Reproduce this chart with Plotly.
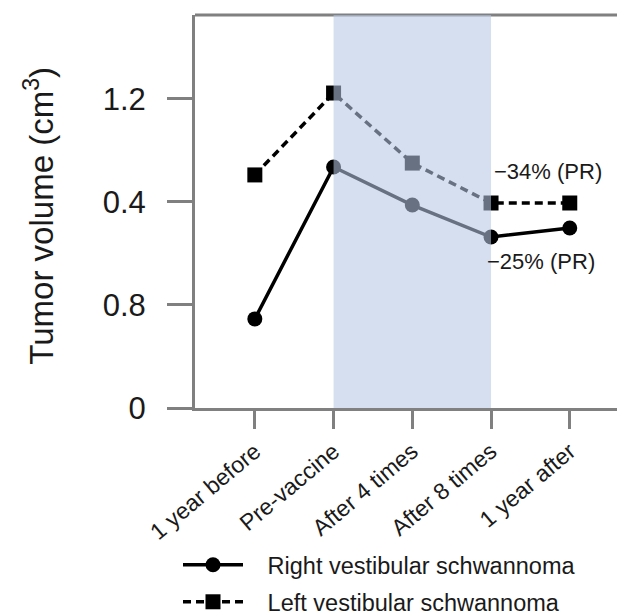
import plotly.graph_objects as go

# ---- data ----
categories = ["1 year before", "Pre-vaccine", "After 4 times", "After 8 times", "1 year after"]
right_vs = [0.346, 0.936, 0.788, 0.664, 0.699]   # Right vestibular schwannoma
left_vs = [0.905, 1.223, 0.951, 0.796, 0.796]    # Left vestibular schwannoma
y_tickvals = [0, 0.4, 0.8, 1.2]
y_ticktext = ["0", "0.8", "0.4", "1.2"]
vaccine_start, vaccine_end = 1, 3                # shaded vaccination period (category index)
notes = [("\u221234% (PR)", 3.01, 0.917), ("\u221225% (PR)", 2.92, 0.567)]

FONT = "Liberation Sans, Arial, sans-serif"
AXC = "#808080"
TXT = "#1a1a1a"
W, H = 617, 612

xs = list(range(len(categories)))
GAP = "\u00a0" * 3

fig = go.Figure()
fig.add_trace(go.Scatter(
    x=xs, y=right_vs, mode="lines+markers", name=GAP + "Right vestibular schwannoma",
    line=dict(color="black", width=3.5),
    marker=dict(symbol="circle", size=15, color="black"),
    legend="legend",
))
fig.add_trace(go.Scatter(
    x=xs, y=left_vs, mode="lines+markers", name=GAP + "Left vestibular schwannoma",
    line=dict(color="black", width=3.5, dash="8px,5px"),
    marker=dict(symbol="square", size=15, color="black"),
    legend="legend2",
))

# top frame line (drawn under the shaded band, like the reference)
fig.add_shape(type="line", xref="paper", yref="paper", x0=0, x1=1, y0=1, y1=1,
              line=dict(color=AXC, width=3), layer="below")
fig.add_shape(type="rect", xref="x", yref="paper",
              x0=vaccine_start, x1=vaccine_end, y0=0, y1=1,
              fillcolor="rgba(183,198,226,0.57)", line=dict(width=0), layer="above")

for text, xv, yv in notes:
    fig.add_annotation(x=xv, y=yv, text=text, showarrow=False, xanchor="left", yanchor="middle",
                       font=dict(family=FONT, size=22, color=TXT))

fig.add_annotation(xref="paper", yref="paper", x=-0.37, y=0.489, textangle=-90,
                   text="Tumor volume (cm<sup>3</sup>)", showarrow=False,
                   xanchor="center", yanchor="middle",
                   font=dict(family=FONT, size=33, color=TXT))

fig.update_xaxes(
    range=[-0.76, 4.6], tickvals=xs, ticktext=categories, tickangle=-40,
    showline=True, linecolor=AXC, linewidth=3,
    ticks="outside", ticklen=18, tickwidth=3, tickcolor=AXC,
    showgrid=False, zeroline=False, automargin=False,
    tickfont=dict(family=FONT, size=23, color=TXT),
)
fig.update_yaxes(
    range=[0, 1.526], tickvals=y_tickvals, ticktext=y_ticktext,
    showline=True, linecolor=AXC, linewidth=3,
    ticks="outside", ticklen=25, tickwidth=3, tickcolor=AXC,
    ticklabelstandoff=15,
    showgrid=False, zeroline=False, automargin=False,
    tickfont=dict(family=FONT, size=31, color=TXT),
)

legend_common = dict(xref="container", yref="container", xanchor="left", yanchor="middle",
                     bgcolor="rgba(0,0,0,0)", borderwidth=0, itemwidth=60,
                     font=dict(family=FONT, size=23.5, color=TXT))
fig.update_layout(
    width=W, height=H,
    margin=dict(l=195, r=0, t=15, b=204, autoexpand=False),
    paper_bgcolor="white", plot_bgcolor="white",
    showlegend=True,
    legend=dict(x=178 / W, y=1 - 565 / H, **legend_common),
    legend2=dict(x=178 / W, y=1 - 602 / H, **legend_common),
)

fig.write_html("out.html", config={"displayModeBar": False},
               post_script="document.body.style.margin='0';document.body.style.overflow='hidden';")
